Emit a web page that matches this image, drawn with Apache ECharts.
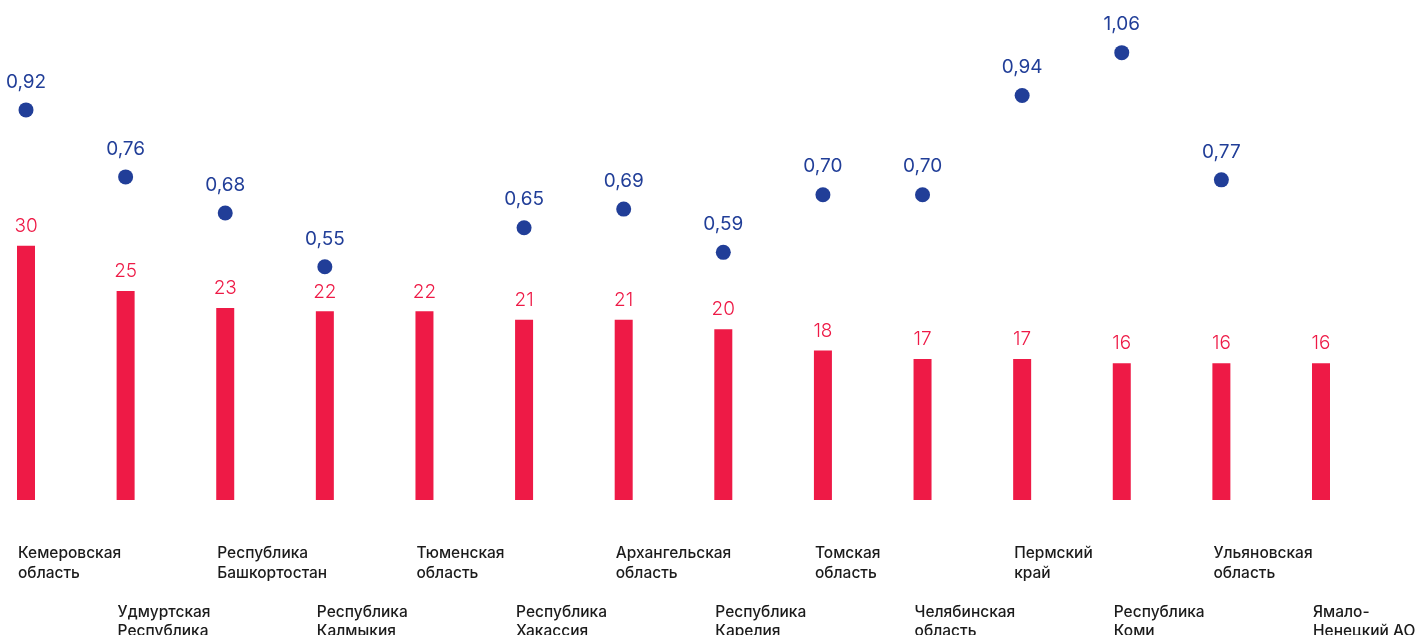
<!DOCTYPE html>
<html>
<head>
<meta charset="utf-8">
<script src="https://cdn.jsdelivr.net/npm/echarts@6/dist/echarts.min.js"></script>
<style>
html,body{margin:0;padding:0;background:#fff;}
#c{width:1415px;height:635px;}
</style>
</head>
<body>
<div id="c"></div>
<script>
const categories = [
  'Кемеровская\nобласть',
  'Удмуртская\nРеспублика',
  'Республика\nБашкортостан',
  'Республика\nКалмыкия',
  'Тюменская\nобласть',
  'Республика\nХакассия',
  'Архангельская\nобласть',
  'Республика\nКарелия',
  'Томская\nобласть',
  'Челябинская\nобласть',
  'Пермский\nкрай',
  'Республика\nКоми',
  'Ульяновская\nобласть',
  'Ямало-\nНенецкий АО'
];
const barValues = [29.9, 24.6, 22.6, 22.2, 22.2, 21.2, 21.2, 20.1, 17.6, 16.6, 16.6, 16.1, 16.1, 16.1];
const barLabels = ['30', '25', '23', '22', '22', '21', '21', '20', '18', '17', '17', '16', '16', '16'];
const dotValues = [0.92, 0.762, 0.677, 0.55, null, 0.642, 0.686, 0.584, 0.72, 0.72, 0.954, 1.055, 0.755, null];
const dotLabels = ['0,92', '0,76', '0,68', '0,55', '', '0,65', '0,69', '0,59', '0,70', '0,70', '0,94', '1,06', '0,77', ''];

const RED = '#EE1A46';
const BLUE = '#213E98';
const FONT = 'Inter, Lato, "Noto Sans", sans-serif';

const chart = echarts.init(document.getElementById('c'), null, {renderer: 'canvas'});
const L = 26, R = 94, B = 135, T = 41;
chart.setOption({
  animation: false,
  backgroundColor: '#ffffff',
  grid: [
    {left: L, right: R, top: T, bottom: B, containLabel: false, outerBoundsMode: 'none'},
    {left: L - 8, right: R + 8, top: T, bottom: B, containLabel: false, outerBoundsMode: 'none'}
  ],
  xAxis: [
    {type: 'category', gridIndex: 0, data: categories, boundaryGap: false,
     axisLine: {show: false}, axisTick: {show: false}, axisLabel: {show: false}, splitLine: {show: false}},
    {type: 'category', gridIndex: 1, data: categories, boundaryGap: false,
     axisLine: {show: false}, axisTick: {show: false}, splitLine: {show: false},
     axisLabel: {
       show: true, interval: 0, margin: 44, align: 'left', verticalAlign: 'top',
       color: '#1b1b1b', fontSize: 15.5, fontFamily: FONT, fontWeight: 500, lineHeight: 19.5,
       formatter: function (v, i) { return (i % 2 === 1 ? '\n\n\n' : '') + v; }
     }}
  ],
  yAxis: [
    {type: 'value', gridIndex: 0, min: 0, max: 54, show: false, splitLine: {show: false}},
    {type: 'value', gridIndex: 0, min: 0, max: 1.0825, show: false, splitLine: {show: false}},
    {type: 'value', gridIndex: 1, min: 0, max: 1, show: false}
  ],
  series: [
    {
      type: 'bar', xAxisIndex: 0, yAxisIndex: 0, data: barValues, barWidth: 18,
      itemStyle: {color: RED},
      label: {
        show: true, position: 'top', distance: 10, color: RED,
        fontSize: 19, fontFamily: FONT, fontWeight: 300,
        formatter: function (p) { return barLabels[p.dataIndex]; }
      }
    },
    {
      type: 'scatter', xAxisIndex: 0, yAxisIndex: 1, data: dotValues, symbol: 'circle', symbolSize: 15,
      itemStyle: {color: BLUE, opacity: 1},
      emphasis: {disabled: true},
      label: {
        show: true, position: 'top', distance: 11, color: BLUE,
        fontSize: 19, fontFamily: FONT, fontWeight: 400,
        formatter: function (p) { return dotLabels[p.dataIndex]; }
      }
    }
  ]
});
</script>
</body>
</html>
